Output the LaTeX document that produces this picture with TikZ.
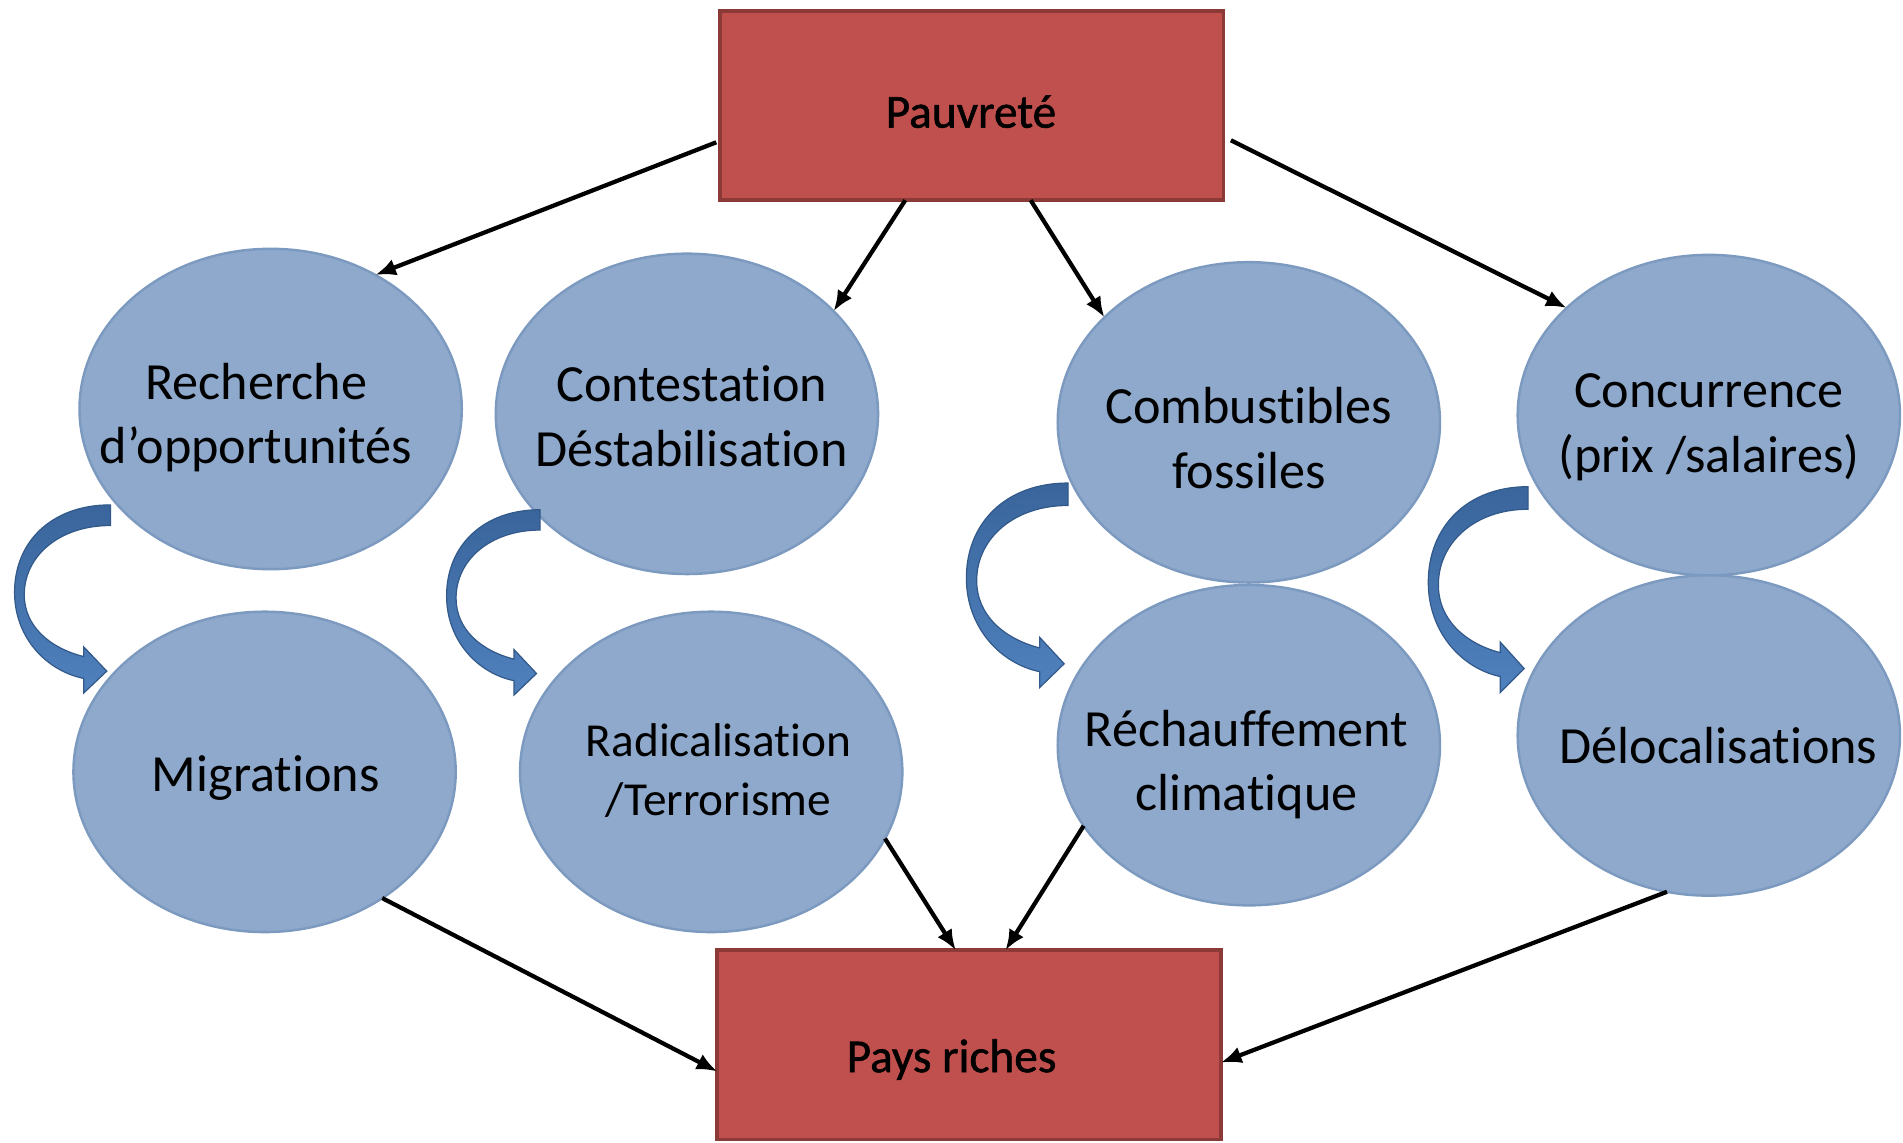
\documentclass[tikz,border=0pt]{standalone}
\usepackage{fontspec}
\setmainfont{Carlito}[RawFeature={-liga;-clig;-dlig}]
\newfontfamily\boxfont{Carlito}[RawFeature={-liga;-clig;-dlig}, FakeBold=1.2]
\usetikzlibrary{arrows.meta,shapes.geometric}
\definecolor{ellfill}{HTML}{8EA9CB}
\definecolor{elldraw}{HTML}{7C99BF}
\definecolor{boxfill}{HTML}{C0504D}
\definecolor{boxdraw}{HTML}{8C3A38}
\definecolor{cadark}{HTML}{3A659C}
\definecolor{calight}{HTML}{4F81BD}
\definecolor{caedge}{HTML}{32598A}
\tikzset{
  ell/.style={ellipse, fill=ellfill, draw=elldraw, line width=2pt,
    minimum width=315pt, minimum height=264pt, inner sep=0pt, outer sep=0pt},
  etxt/.style={align=center, font=\fontsize{43}{53}\selectfont, inner sep=0pt},
  etxtsmall/.style={align=center, font=\fontsize{39}{48}\selectfont, inner sep=0pt},
  bigbox/.style={rectangle, fill=boxfill, draw=boxdraw, line width=3pt,
    minimum width=415pt, minimum height=156pt, inner sep=0pt, outer sep=0pt},
  boxtxt/.style={inner sep=0pt, font=\boxfont\fontsize{39}{47}\selectfont},
  conn/.style={line width=3.5pt, -{Latex[length=17pt,width=14pt]}},
  curvarrow/.pic={
    \shade[top color=cadark, bottom color=calight, draw=caedge, line width=1pt]
      (0,0) .. controls (-48,0) and (-79,30) .. (-79,72)
      .. controls (-79,110) and (-52,137) .. (-22,143)
      -- (-22,155) -- (-3,137) -- (-22,117) -- (-22,125)
      .. controls (-50,118) and (-71,100) .. (-71,74)
      .. controls (-71,42) and (-42,17) .. (0,17) -- cycle;
  }
}
\begin{document}
\begin{tikzpicture}[x=1pt,y=-1pt]
\useasboundingbox (0,0) rectangle (1568,941);
\fill[white] (0,0) rectangle (1568,941);

% boxes
\node[bigbox] (pauv) at (800.5,87) {};
\node[bigbox] (pays) at (798.5,861) {};
\node[boxtxt] at (800,92) {Pauvreté};
\node[boxtxt] at (784,873) {Pays riches};

% ellipses
\node[ell] (rech) at (223,337) {};
\node[ell] (cont) at (566,341) {};
\node[ell] (comb) at (1029,348) {};
\node[ell] (conc) at (1408,342) {};
\node[ell] (migr) at (218,636) {};
\node[ell] (radi) at (586,636) {};
\node[ell] (rech2) at (1029,614) {};
\node[ell] (delo) at (1408,606) {};

% ellipse texts
\node[etxt] at (211,344) {Recherche\\d’opportunités};
\node[etxt] at (570,343) {Contestation\\Déstabilisation};
\node[etxt] at (1029,361) {Combustibles\\fossiles};
\node[etxt] at (1408,352) {Concurrence\\(prix /salaires)};
\node[etxt] at (219,641) {Migrations};
\node[etxtsmall] at (592,635) {Radicalisation\\/Terrorisme};
\node[etxt] at (1027,630) {Réchauffement\\climatique};
\node[etxt] at (1416,614) {Délocalisations};

% curved block arrows
\pic at (91,416) {curvarrow};
\pic[xscale=0.975,yscale=0.985] at (445,420) {curvarrow};
\pic[xscale=1.06,yscale=1.087] at (880,398) {curvarrow};
\pic[xscale=1.04,yscale=1.094] at (1259,401) {curvarrow};

% connectors
\draw[conn, shorten <=3pt] (pauv.188) -- (rech.52);
\draw[conn] (pauv.235) -- (cont.35);
\draw[conn] (pauv.302) -- (comb.144);
\draw[conn, shorten <=7pt] (pauv.-7) -- (conc.143);
\draw[conn] (migr.-47.5) -- (pays.186.6);
\draw[conn] (radi.-21) -- (pays.98);
\draw[conn] (rech2.206) -- (pays.69);
\draw[conn] (delo.255) -- (pays.-4.4);
\end{tikzpicture}
\end{document}
